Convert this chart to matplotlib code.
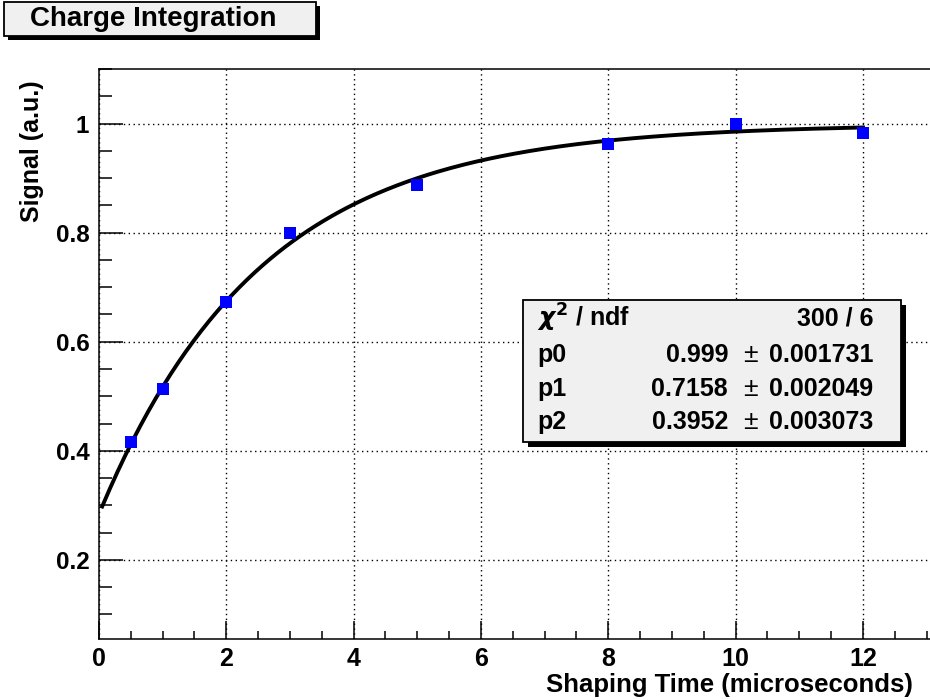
import numpy as np
import matplotlib
matplotlib.use("Agg")
import matplotlib.pyplot as plt
from matplotlib.patches import Rectangle
from matplotlib.ticker import MultipleLocator

# measured points
shaping_time = [0.5, 1, 2, 3, 5, 8, 10, 12]
signal = [0.416, 0.513, 0.672, 0.800, 0.887, 0.962, 1.000, 0.982]

# fit result p0*(1 - p1*exp(-p2*x))
p0, p1, p2 = 0.999, 0.7158, 0.3952
fit_labels = ["p0", "p1", "p2"]
fit_values = ["0.999", "0.7158", "0.3952"]
fit_errors = ["0.001731", "0.002049", "0.003073"]
chi2_text = "300 / 6"

x_ticks = [0, 2, 4, 6, 8, 10, 12]
y_ticks = [0.2, 0.4, 0.6, 0.8, 1.0]
y_ticklabels = ['0.2', '0.4', '0.6', '0.8', '1']

W, H = 930, 700
plt.rcParams['font.family'] = ['Liberation Sans', 'DejaVu Sans']
plt.rcParams['font.weight'] = 'bold'
plt.rcParams['mathtext.fontset'] = 'dejavusans'

fig = plt.figure(figsize=(W / 100, H / 100), dpi=100)
ax = fig.add_axes([99 / W, 61 / H, 0.9105, 570 / H])

xf = np.linspace(0.05, 12, 300)
yf = p0 * (1 - p1 * np.exp(-p2 * xf))
ax.plot(xf, yf, color='black', lw=2.8, zorder=3)
ax.plot(shaping_time, signal, 's', color='#0000ff', ms=8.5, mew=0, zorder=4)

ax.set_xlim(0, 13.3)
ax.set_ylim(0.055, 1.1)
ax.set_xticks(x_ticks)
ax.set_xticklabels([str(t) for t in x_ticks], fontweight='bold')
ax.xaxis.set_minor_locator(MultipleLocator(0.5))
ax.set_yticks(y_ticks)
ax.set_yticklabels(y_ticklabels, fontweight='bold')
ax.yaxis.set_minor_locator(MultipleLocator(0.05))
ax.grid(True, which='major', color='black', lw=1, ls=(0, (1, 2.5)))
ax.tick_params(axis='both', which='both', direction='in', top=False, right=False,
               width=1.1, color='black')
ax.tick_params(axis='x', which='major', length=13, pad=6, labelsize=18)
ax.tick_params(axis='x', which='minor', length=6)
ax.tick_params(axis='y', which='major', length=17, pad=7, labelsize=17.5)
ax.tick_params(axis='y', which='minor', length=9)
for s in ax.spines.values():
    s.set_linewidth(1.1)

fig.text(913 / W, 1 - 685 / H, "Shaping Time (microseconds)", ha='right', va='center',
         fontsize=18.5, fontweight='bold')
fig.text(32 / W, 1 - 80 / H, "Signal (a.u.)", rotation=90, ha='center', va='top',
         fontsize=18, fontweight='bold')


def box(x0, y0, x1, y1, shadow=4):
    # pixel box with drop shadow, y measured from top
    fig.patches.append(Rectangle(((x0 + shadow) / W, 1 - (y1 + shadow) / H), (x1 - x0) / W,
                                 (y1 - y0) / H, transform=fig.transFigure,
                                 facecolor='black', edgecolor='none', zorder=5))
    fig.patches.append(Rectangle((x0 / W, 1 - y1 / H), (x1 - x0) / W, (y1 - y0) / H,
                                 transform=fig.transFigure, facecolor='#f0f0f0',
                                 edgecolor='black', lw=1.3, zorder=6))


# title box
box(4, 2, 316, 36)
fig.text(30 / W, 1 - 19 / H, "Charge Integration", ha='left', va='center',
         fontsize=20, fontweight='bold', zorder=7)

# stats box
box(523, 300, 901, 442, shadow=5)
rows_y = [318, 355, 389, 422]
fs = 18
fig.text(537 / W, 1 - rows_y[0] / H, r"$\chi^{\mathbf{2}}$ / ndf", ha='left', va='center',
         fontsize=fs, fontweight='bold', zorder=7)
fig.text(873 / W, 1 - rows_y[0] / H, chi2_text, ha='right', va='center',
         fontsize=fs, fontweight='bold', zorder=7)
for i in range(3):
    yy = 1 - rows_y[i + 1] / H
    fig.text(537 / W, yy, fit_labels[i], ha='left', va='center', fontsize=fs,
             fontweight='bold', zorder=7)
    fig.text(728 / W, yy, fit_values[i], ha='right', va='center', fontsize=fs,
             fontweight='bold', zorder=7)
    fig.text(743 / W, yy, "\u00b1", ha='left', va='center', fontsize=19,
             fontweight='normal', zorder=7)
    fig.text(873 / W, yy, fit_errors[i], ha='right', va='center', fontsize=fs,
             fontweight='bold', zorder=7)

fig.savefig("out.png", dpi=100)
